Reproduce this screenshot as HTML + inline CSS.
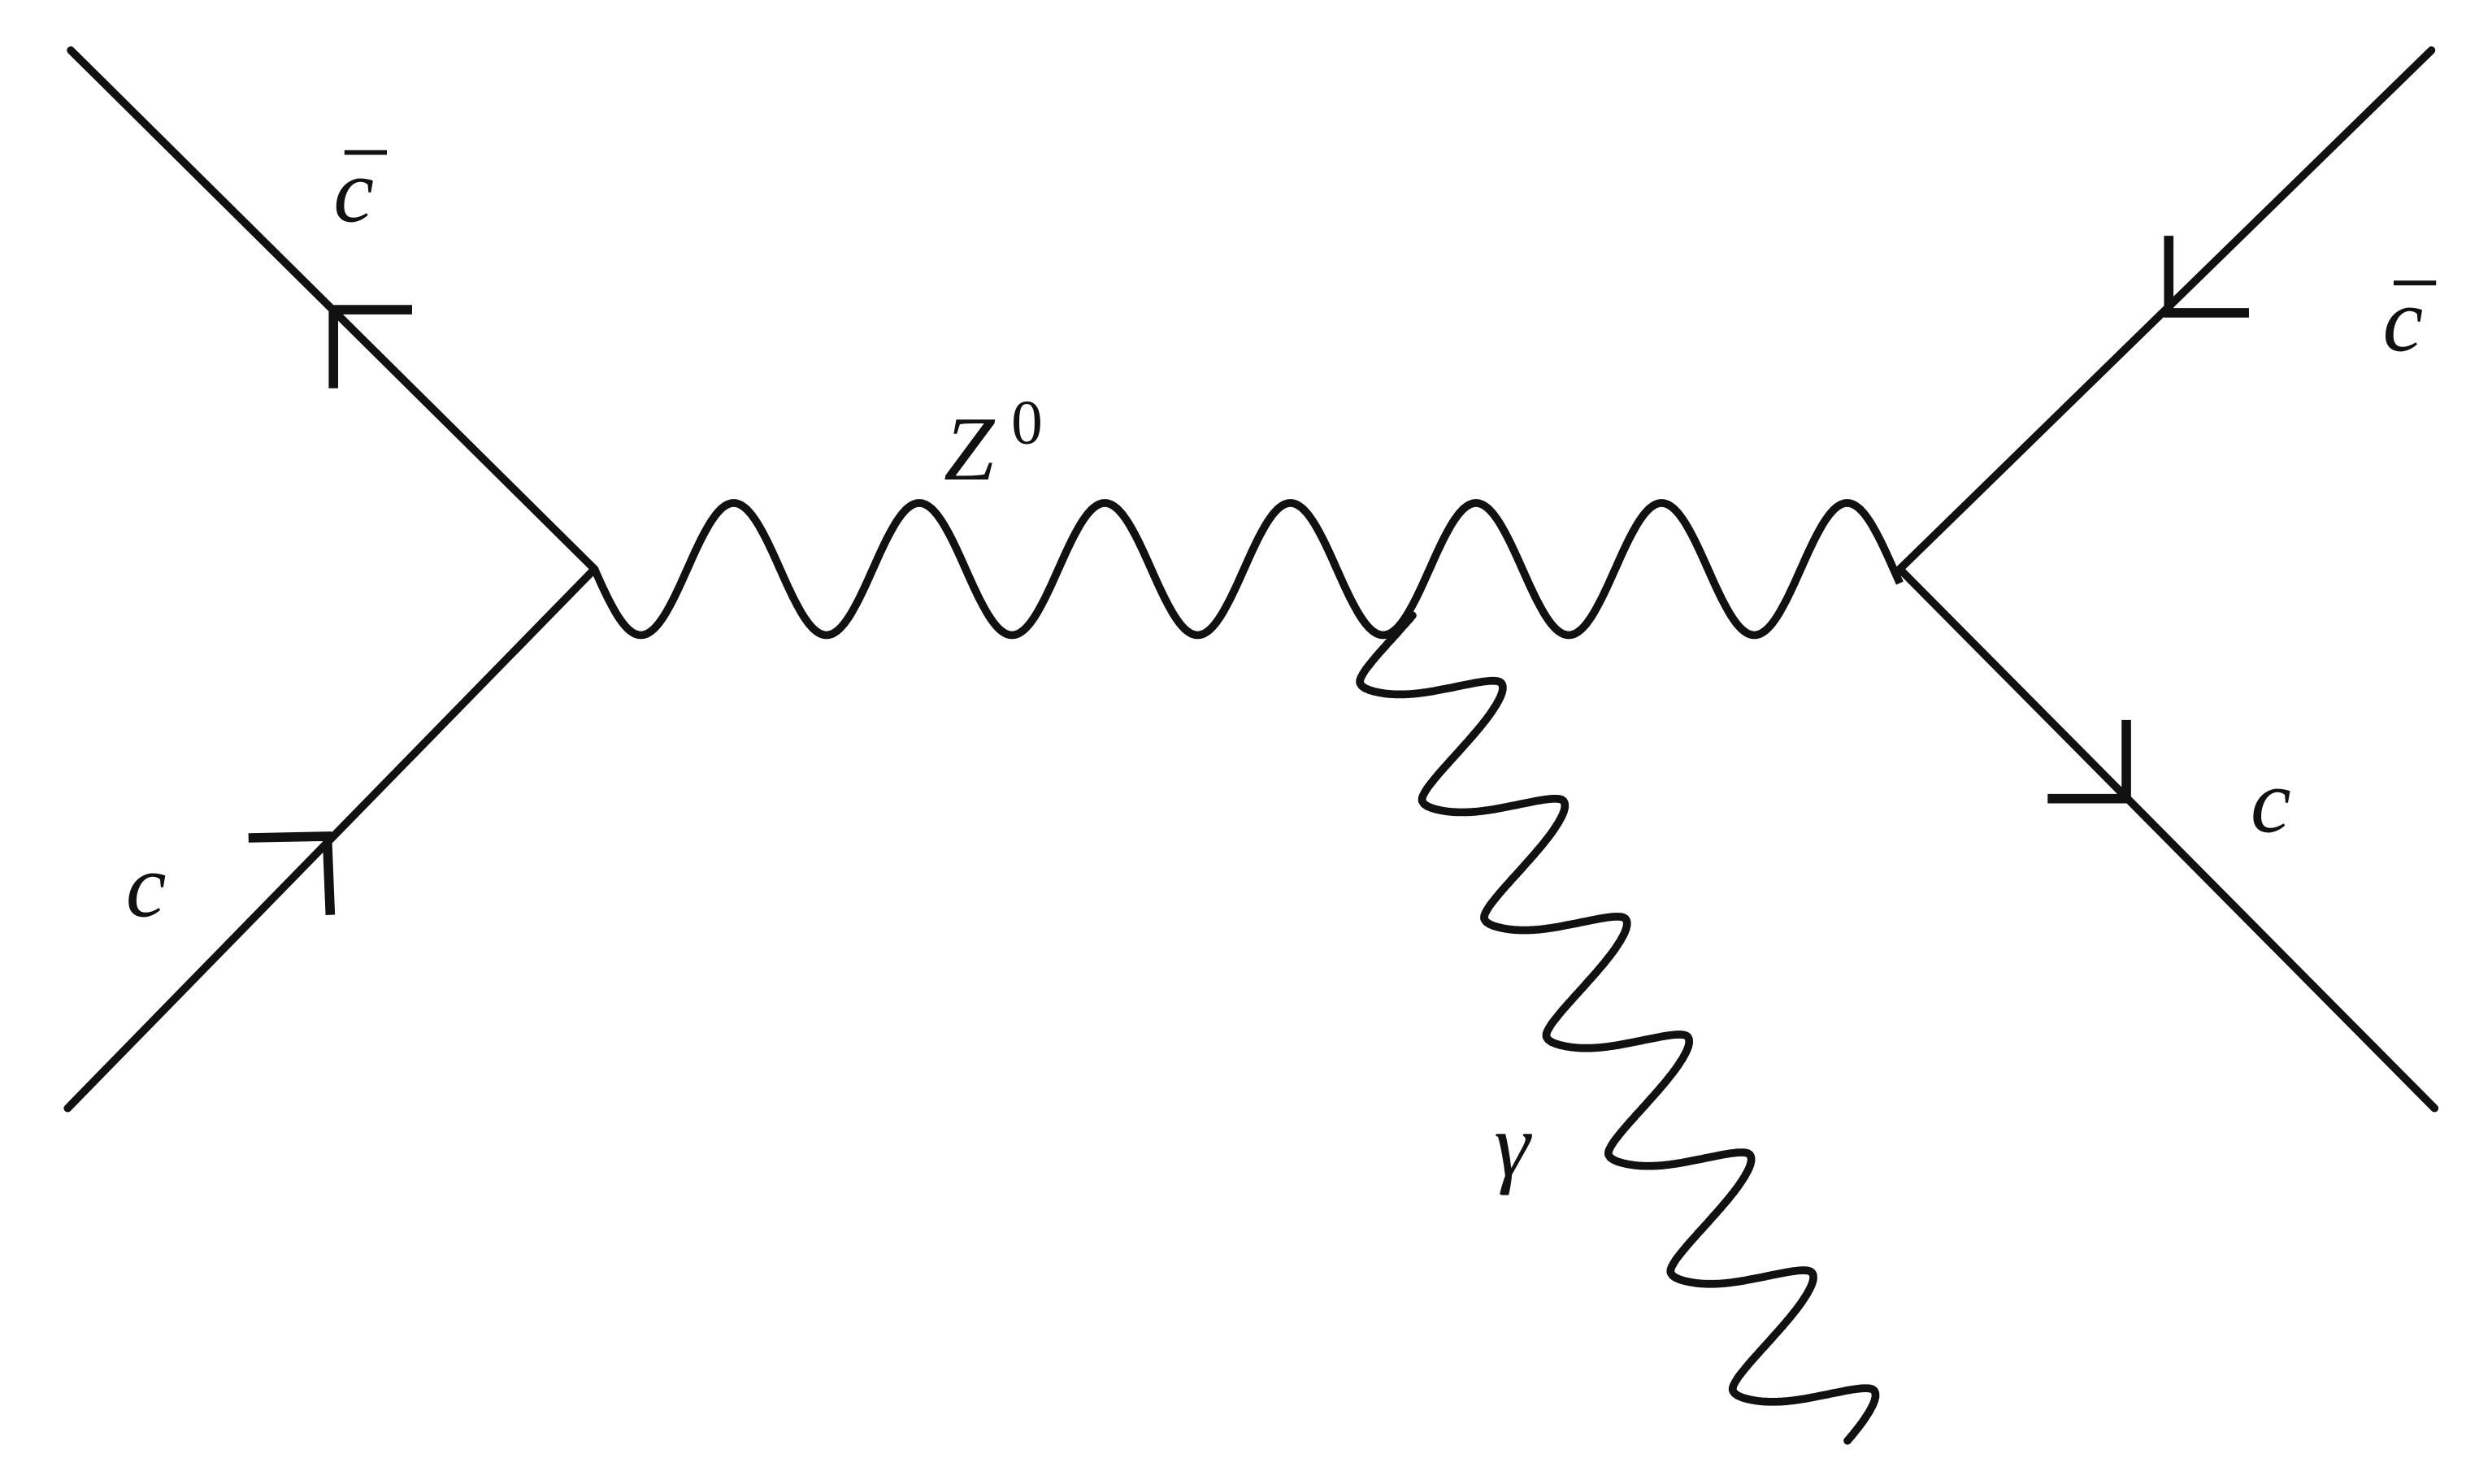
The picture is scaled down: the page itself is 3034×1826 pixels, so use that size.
<!DOCTYPE html>
<html>
<head>
<meta charset="utf-8">
<style>
html,body{margin:0;padding:0;background:#fff;}
svg{display:block;}
text{font-family:"Liberation Serif",serif;font-style:italic;fill:#111;}
</style>
</head>
<body>
<svg id="d" width="3034" height="1826" viewBox="0 0 1568 944" preserveAspectRatio="none" xmlns="http://www.w3.org/2000/svg">
  <rect width="1568" height="944" fill="#fff"/>
  <g stroke="#111" stroke-width="5" stroke-linecap="round" fill="none">
    <line x1="45" y1="32" x2="378" y2="362"/>
    <line x1="43" y1="705" x2="378" y2="362"/>
    <line x1="1546" y1="32" x2="1208" y2="362"/>
    <line x1="1548" y1="705" x2="1208" y2="362"/>
  </g>
  <g stroke="#111" stroke-width="6" fill="none">
    <polyline points="262,197 212,197 212,247"/>
    <polyline points="158,533 208,532 210,582"/>
    <polyline points="1379,150 1379,199 1430,199"/>
    <polyline points="1352,458 1352,508 1302,508"/>
  </g>
  <path id="z" stroke="#111" stroke-width="5" fill="none"/>
  <path id="g" stroke="#111" stroke-width="5" fill="none" stroke-linecap="round"/>
  <g font-size="58">
    <text x="212" y="141">c</text>
    <line x1="219" y1="97" x2="246" y2="97" stroke="#111" stroke-width="3"/>
    <text x="80" y="583">c</text>
    <text x="600" y="305">Z</text>
    <text x="643" y="282" font-size="40" style="font-style:normal">0</text>
    <text x="950" y="748">γ</text>
    <text x="1431" y="529">c</text>
    <text x="1515" y="223">c</text>
    <line x1="1522" y1="180" x2="1549" y2="180" stroke="#111" stroke-width="3"/>
  </g>
</svg>
<script>
// Z boson wave: vertices and wave parameters
const zStart = [378, 362];
const zEnd = [1208, 362];
const zPeriod = 118;
const zAmp = 42;
// photon coil parameters
const gCenter = [900.1, 416.25];
const gStep = [39.5, 75];
const gOsc = [35.1, -18.75];
const gRange = [-0.25, 6.75];

let d = '';
for (let x = zStart[0]; x <= zEnd[0]; x += 1) {
  const y = zStart[1] + zAmp * Math.sin(2 * Math.PI * (x - zStart[0]) / zPeriod);
  d += (d ? 'L' : 'M') + x.toFixed(1) + ',' + y.toFixed(1);
}
document.getElementById('z').setAttribute('d', d);

const k = 0.8;
function tri(t) {
  return -Math.asin(k * Math.cos(2 * Math.PI * t)) / Math.asin(k);
}
let p = '';
for (let t = gRange[0]; t <= gRange[1] + 1e-9; t += 0.004) {
  const g = tri(t);
  // perpendicular rounding bulge at turns
  const s = Math.sin(2 * Math.PI * t);
  const x = gCenter[0] + t * gStep[0] + g * gOsc[0] - 8 * s * Math.abs(s);
  const y = gCenter[1] + t * gStep[1] + g * gOsc[1] + 6 * s * Math.abs(s);
  p += (p ? 'L' : 'M') + x.toFixed(1) + ',' + y.toFixed(1);
}
document.getElementById('g').setAttribute('d', p);
</script>
</body>
</html>
